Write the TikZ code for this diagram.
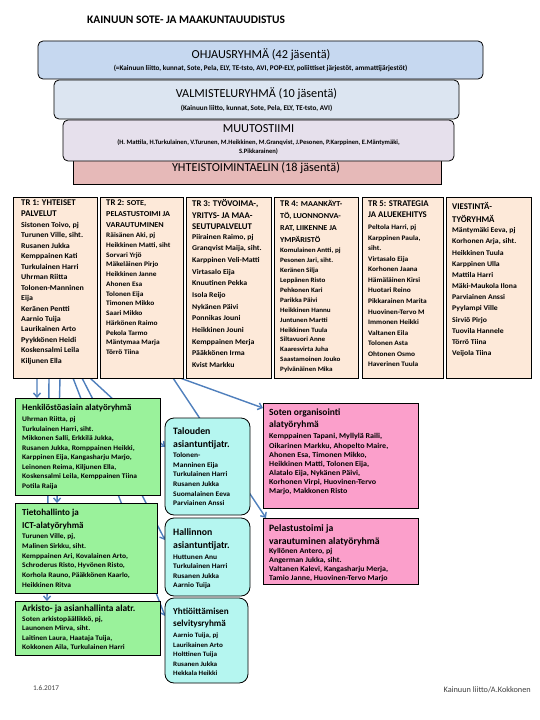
\documentclass[tikz,border=0pt]{standalone}
\usepackage{fontspec}
\setmainfont{Carlito}
\newfontfamily\nmfont{Carlito}[FakeStretch=1.08]
\usetikzlibrary{arrows.meta,backgrounds}
\newcommand\fs[2]{\fontsize{#1}{#2}\selectfont}
\newcommand\nmf[2]{\nmfont\bfseries\fontsize{#1}{#2}\selectfont}
\newcommand\hdf[2]{\bfseries\fontsize{#1}{#2}\selectfont}
\definecolor{ohjfill}{HTML}{C6D8F0}
\definecolor{valmfill}{HTML}{DCE5F1}
\definecolor{muutfill}{HTML}{E6E0EC}
\definecolor{yhtfill}{HTML}{E6B9B8}
\definecolor{trfill}{HTML}{FDE9D9}
\definecolor{grnfill}{HTML}{9AF29B}
\definecolor{cynfill}{HTML}{B5F6F0}
\definecolor{pnkfill}{HTML}{FB9FCB}
\definecolor{connblue}{HTML}{4F7FBC}
\begin{document}
\begin{tikzpicture}[x=1bp,y=-1bp,
  box/.style={draw=black, line width=0.8bp, anchor=north west, inner sep=0pt, outer sep=0pt},
  topbox/.style={box, rounded corners=5bp},
  trbox/.style={box, fill=trfill},
  grnbox/.style={box, fill=grnfill},
  cynbox/.style={box, fill=cynfill, rounded corners=9bp},
  pnkbox/.style={box, fill=pnkfill},
  tx/.style={anchor=north west, inner sep=0pt, align=left},
  ctx/.style={inner sep=0pt, align=center},
  conn/.style={draw=connblue, line width=1.4bp, -{Straight Barb[length=4bp,width=7bp]}}
]
\useasboundingbox (0,0) rectangle (540,720);

% title
\node[tx, anchor=west, font=\hdf{11.5}{13}] (title) at (87,20) {KAINUUN SOTE- JA MAAKUNTAUUDISTUS};

% top boxes
\node[topbox, fill=ohjfill, minimum width=445bp, minimum height=38bp] (ohj) at (38,41) {};
\node[topbox, fill=valmfill, minimum width=405bp, minimum height=39bp] (valm) at (54,80) {};
\node[box, fill=yhtfill, minimum width=368bp, minimum height=24bp] (yht) at (73,160) {};
\node[topbox, fill=muutfill, minimum width=391bp, minimum height=41bp] (muut) at (63,120) {};

\node[ctx, font=\fs{12.3}{14}] (ohjT) at (261,55) {OHJAUSRYHMÄ (42 jäsentä)};
\node[ctx, font=\hdf{7.2}{9}] (ohjS) at (260.5,68.5) {(=Kainuun liitto, kunnat, Sote, Pela, ELY, TE-tsto, AVI, POP-ELY, poliittiset järjestöt, ammattijärjestöt)};
\node[ctx, font=\fs{12.3}{14}] (valmT) at (256.5,94) {VALMISTELURYHMÄ (10 jäsentä)};
\node[ctx, font=\hdf{7.2}{9}] (valmS) at (256.5,108) {(Kainuun liitto, kunnat, Sote, Pela, ELY, TE-tsto, AVI)};
\node[ctx, font=\fs{12.3}{14}] (muutT) at (258.5,129) {MUUTOSTIIMI};
\node[ctx, font=\hdf{6.6}{9}] (muutS) at (258.5,147) {(H. Mattila, H.Turkulainen, V.Turunen, M.Heikkinen, M.Granqvist, J.Pesonen, P.Karppinen, E.Mäntymäki,\\S.Pikkarainen)};
\node[ctx, font=\fs{12.3}{14}] (yhtT) at (256,168.5) {YHTEISTOIMINTAELIN (18 jäsentä)};

% TR boxes
\node[trbox, minimum width=84bp, minimum height=181bp] (tr1) at (13,197) {};
\node[trbox, minimum width=83bp, minimum height=181bp] (tr2) at (100,197) {};
\node[trbox, minimum width=85bp, minimum height=181bp] (tr3) at (186,197) {};
\node[trbox, minimum width=84bp, minimum height=181bp] (tr4) at (274,197) {};
\node[trbox, minimum width=81bp, minimum height=181bp] (tr5) at (362,197) {};
\node[trbox, minimum width=85bp, minimum height=181bp] (tr6) at (446,197) {};

\node[tx, font=\hdf{8.8}{11.5}] (tr1h) at (21,199.5) {TR 1: YHTEISET\\PALVELUT};
\node[tx, font=\nmf{7.4}{10.5}] (tr1n) at (21,222) {Sistonen Toivo, pj\\Turunen Ville, siht.\\Rusanen Jukka\\Kemppainen Kati\\Turkulainen Harri\\Uhrman Riitta\\Tolonen-Manninen\\Eija\\Keränen Pentti\\Aarnio Tuija\\Laurikainen Arto\\Pyykkönen Heidi\\Koskensalmi Leila\\Kiljunen Ella};

\node[tx, font=\hdf{8.8}{11}] (tr2h) at (106,199.5) {TR 2: {\nmf{7.6}{11}SOTE,}\\{\nmf{7.6}{11}PELASTUSTOIMI JA}\\{\nmf{7.6}{11}VARAUTUMINEN}};
\node[tx, font=\nmf{6.9}{9.8}] (tr2n) at (106,232.5) {Räisänen Aki, pj\\Heikkinen Matti, siht\\Sorvari Yrjö\\Mäkeläinen Pirjo\\Heikkinen Janne\\Ahonen Esa\\Tolonen Eija\\Timonen Mikko\\Saari Mikko\\Härkönen Raimo\\Pekola Tarmo\\Mäntymaa Marja\\Törrö Tiina};

\node[tx, font=\hdf{8.8}{11.5}] (tr3h) at (192,199.5) {TR 3: TYÖVOIMA-,\\YRITYS- JA MAA-\\SEUTUPALVELUT};
\node[tx, font=\nmf{7.3}{11.7}] (tr3n) at (192,234) {Piirainen Raimo, pj\\Granqvist Maija, siht.\\Karppinen Veli-Matti\\Virtasalo Eija\\Knuutinen Pekka\\Isola Reijo\\Nykänen Päivi\\Ponnikas Jouni\\Heikkinen Jouni\\Kemppainen Merja\\Pääkkönen Irma\\Kvist Markku};

\node[tx, font=\hdf{8.8}{12}] (tr4h) at (280,200.5) {TR 4: {\nmf{7.6}{12}MAANKÄYT-}\\{\nmf{7.6}{12}TÖ, LUONNONVA-}\\{\nmf{7.6}{12}RAT, LIIKENNE JA}\\{\nmf{7.6}{12}YMPÄRISTÖ}};
\node[tx, font=\nmf{6.6}{10}] (tr4n) at (280,247.5) {Komulainen Antti, pj\\Pesonen Jari, siht.\\Keränen Silja\\Leppänen Risto\\Pehkonen Kari\\Parikka Päivi\\Heikkinen Hannu\\Juntunen Martti\\Heikkinen Tuula\\Siltavuori Anne\\Kaaresvirta Juha\\Saastamoinen Jouko\\Pylvänäinen Mika};

\node[tx, font=\hdf{8.8}{11.5}] (tr5h) at (368,200.5) {TR 5: STRATEGIA\\JA ALUEKEHITYS};
\node[tx, font=\nmf{6.9}{10.6}] (tr5n) at (368,224.5) {Peltola Harri, pj\\Karppinen Paula,\\siht.\\Virtasalo Eija\\Korhonen Jaana\\Hämäläinen Kirsi\\Huotari Reino\\Pikkarainen Marita\\Huovinen-Tervo M\\Immonen Heikki\\Valtanen Eila\\Tolonen Asta\\Ohtonen Osmo\\Haverinen Tuula};

\node[tx, font=\hdf{8.8}{13}] (tr6h) at (452,202.5) {VIESTINTÄ-\\TYÖRYHMÄ};
\node[tx, font=\nmf{7.2}{11.2}] (tr6n) at (452,227.5) {Mäntymäki Eeva, pj\\Korhonen Arja, siht.\\Heikkinen Tuula\\Karppinen Ulla\\Mattila Harri\\Mäki-Maukola Ilona\\Parviainen Anssi\\Pyylampi Ville\\Sirviö Pirjo\\Tuovila Hannele\\Törrö Tiina\\Veijola Tiina};

% lower group boxes
\node[grnbox, minimum width=145bp, minimum height=97bp] (henk) at (15,398) {};
\node[grnbox, minimum width=142bp, minimum height=90bp] (tieto) at (15,503) {};
\node[grnbox, minimum width=145bp, minimum height=54bp] (ark) at (15,601) {};
\node[cynbox, minimum width=85bp, minimum height=97bp] (tal) at (165,418) {};
\node[cynbox, minimum width=85bp, minimum height=78bp] (hall) at (165,518) {};
\node[cynbox, minimum width=83bp, minimum height=85bp] (yhtio) at (165,598) {};
\node[pnkbox, minimum width=155bp, minimum height=105bp] (soten) at (263,403) {};
\node[pnkbox, minimum width=155bp, minimum height=66bp] (pel) at (263,518) {};

\node[tx, font=\hdf{8.9}{12}] (henkh) at (22,404.5) {Henkilöstöasiain alatyöryhmä};
\node[tx, font=\nmf{7}{9.6}] (henkn) at (22,416.5) {Uhrman Riitta, pj\\Turkulainen Harri, siht.\\Mikkonen Salli, Erkkilä Jukka,\\Rusanen Jukka, Romppainen Heikki,\\Karppinen Eija, Kangasharju Marjo,\\Leinonen Reima, Kiljunen Ella,\\Koskensalmi Leila, Kemppainen Tiina\\Potila Raija};

\node[tx, font=\hdf{9.1}{13}] (tietoh) at (22,508.5) {Tietohallinto ja\\ICT-alatyöryhmä};
\node[tx, font=\nmf{7}{9.8}] (tieton) at (22,533.5) {Turunen Ville, pj,\\Malinen Sirkku, siht.\\Kemppainen Ari, Kovalainen Arto,\\Schroderus Risto, Hyvönen Risto,\\Korhola Rauno, Pääkkönen Kaarlo,\\Heikkinen Ritva};

\node[tx, font=\hdf{9.4}{12}] (arkh) at (22,604.5) {Arkisto- ja asianhallinta alatr.};
\node[tx, font=\nmf{7}{9.3}] (arkn) at (22,616.5) {Soten arkistopäällikkö, pj,\\Launonen Mirva, siht.\\Laitinen Laura, Haataja Tuija,\\Kokkonen Aila, Turkulainen Harri};

\node[tx, font=\hdf{9.8}{12.5}] (talh) at (173,427.5) {Talouden\\asiantuntijatr.};
\node[tx, font=\nmf{7}{9.7}] (taln) at (173,452.5) {Tolonen-\\Manninen Eija\\Turkulainen Harri\\Rusanen Jukka\\Suomalainen Eeva\\Parviainen Anssi};

\node[tx, font=\hdf{9.8}{12.5}] (hallh) at (173,528.5) {Hallinnon\\asiantuntijatr.};
\node[tx, font=\nmf{7}{9.6}] (halln) at (173,554.5) {Huttunen Anu\\Turkulainen Harri\\Rusanen Jukka\\Aarnio Tuija};

\node[tx, font=\hdf{9.2}{12}] (yhtioh) at (173,607.5) {Yhtiöittämisen\\selvitysryhmä};
\node[tx, font=\nmf{6.7}{9.5}] (yhtion) at (173,633) {Aarnio Tuija, pj\\Laurikainen Arto\\Holttinen Tuija\\Rusanen Jukka\\Hekkala Heikki};

\node[tx, font=\hdf{9.5}{12}] (sotenh) at (269,409) {Soten organisointi\\alatyöryhmä};
\node[tx, font=\nmf{7.5}{9.2}] (sotenn) at (269,433.5) {Kemppainen Tapani, Myllylä Raili,\\Oikarinen Markku, Ahopelto Maire,\\Ahonen Esa, Timonen Mikko,\\Heikkinen Matti, Tolonen Eija,\\Alatalo Eija, Nykänen Päivi,\\Korhonen Virpi, Huovinen-Tervo\\Marjo, Makkonen Risto};

\node[tx, font=\hdf{9.8}{12.5}] (pelh) at (269,524.5) {Pelastustoimi ja\\varautuminen alatyöryhmä};
\node[tx, font=\nmf{7.4}{9}] (peln) at (269,548) {Kyllönen Antero, pj\\Angerman Jukka, siht.\\Valtanen Kalevi, Kangasharju Merja,\\Tamio Janne, Huovinen-Tervo Marjo};

% footer
\node[tx, anchor=west, font=\fs{7.3}{8}, text=black!75] (date) at (33,688) {1.6.2017};
\node[tx, anchor=east, font=\fs{8.3}{9}, text=black!75] (author) at (531,690) {Kainuun liitto/A.Kokkonen};

% background and connectors (behind boxes)
\begin{pgfonlayer}{background}
\fill[white] (0,0) rectangle (540,720);
\draw[conn] ([xshift=24bp]tr1.south west) -- ([xshift=22bp]henk.north west);
\draw[conn] ([xshift=47bp]tr1.south west) -- ([xshift=42bp]tieto.north west);
\draw[conn] ([xshift=36bp]tr1.south west) -- ([xshift=32bp]ark.north west);
\draw[conn] ([xshift=60bp]tr1.south west) -- ([yshift=-18bp]yhtio.north west);
\draw[conn] ([xshift=69bp]tr1.south west) -- ([yshift=-22bp]hall.north west);
\draw[conn] ([xshift=77bp]tr1.south west) -- ([yshift=-29bp]tal.north west);
\draw[conn] ([xshift=-10bp]tr2.south east) -- ([xshift=3bp]pel.north west);
\draw[conn] ([xshift=-3bp]tr2.south east) -- ([yshift=-5bp]soten.north west);
\end{pgfonlayer}
\end{tikzpicture}
\end{document}
